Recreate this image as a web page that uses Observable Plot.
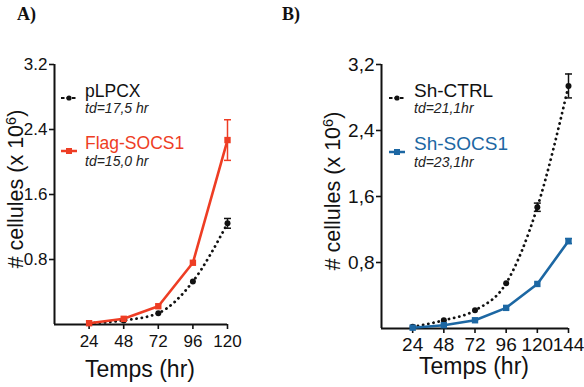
<!DOCTYPE html>
<html>
<head>
<meta charset="utf-8">
<script src="https://cdn.jsdelivr.net/npm/d3@7"></script>
<script src="https://cdn.jsdelivr.net/npm/@observablehq/plot@0.6"></script>
<style>
  html, body { margin: 0; padding: 0; background: #fff; }
  #wrap { position: relative; width: 584px; height: 387px; overflow: hidden; font-family: Arial, "Liberation Sans", Helvetica, sans-serif; }
  #wrap > div.panel { position: absolute; top: 0; }
  #overlay { position: absolute; left: 0; top: 0; pointer-events: none; }
</style>
</head>
<body>
<div id="wrap">
  <div class="panel" id="panelA" style="left:0px"></div>
  <div class="panel" id="panelB" style="left:292px"></div>
  <svg id="overlay" width="584" height="387" xmlns="http://www.w3.org/2000/svg"></svg>
</div>
<script>
// ---------- data ----------
const hoursA = [24, 48, 72, 96, 120];
const pLPCX = [0.015, 0.05, 0.14, 0.53, 1.245];
const pLPCXErr = [0, 0, 0, 0, 0.06];
const flagSOCS1 = [0.016, 0.07, 0.225, 0.76, 2.27];
const flagSOCS1Err = [0, 0, 0, 0, 0.25];

const hoursB = [24, 48, 72, 96, 120, 144];
const shCTRL = [0.02, 0.10, 0.22, 0.55, 1.47, 2.94];
const shCTRLErr = [0, 0, 0, 0, 0.05, 0.145];
const shSOCS1 = [0.01, 0.04, 0.10, 0.25, 0.54, 1.06];
const shSOCS1Err = [0, 0, 0, 0, 0, 0.03];

const yTicks = [0.8, 1.6, 2.4, 3.2];
const xTicksA = [24, 48, 72, 96, 120];
const xTicksB = [24, 48, 72, 96, 120, 144];

const legendA = [
  {name: "pLPCX", td: "td=17,5 hr"},
  {name: "Flag-SOCS1", td: "td=15,0 hr"}
];
const legendB = [
  {name: "Sh-CTRL", td: "td=21,1hr"},
  {name: "Sh-SOCS1", td: "td=23,1hr"}
];

const RED = "#ee3d24";
const BLUE = "#1c67a3";
const SANS = "Arial, 'Liberation Sans', Helvetica, sans-serif";

// ---------- helpers ----------
const rows = (xs, ys, es) => xs.map((x, i) => ({x, y: ys[i], lo: ys[i] - es[i], hi: ys[i] + es[i], e: es[i]}));
const capSymbol = {
  draw(context, size) {
    const w = Math.sqrt(size / Math.PI);
    context.moveTo(-w, 0);
    context.lineTo(w, 0);
  }
};

function errMarks(data, color) {
  const d = data.filter(r => r.e > 0);
  return [
    Plot.ruleX(d, {x: "x", y1: "lo", y2: "hi", stroke: color, strokeWidth: 1.5}),
    Plot.dot(d, {x: "x", y: "lo", symbol: capSymbol, r: 3.5, stroke: color, strokeWidth: 1.5, fill: "none"}),
    Plot.dot(d, {x: "x", y: "hi", symbol: capSymbol, r: 3.5, stroke: color, strokeWidth: 1.5, fill: "none"})
  ];
}

function panel({xs, ctrl, ctrlErr, test, testErr, color, xDomain, xTicks, fmt, fontSize, mLeft, mRight, mBottom, xPad}) {
  const c = rows(xs, ctrl, ctrlErr);
  const t = rows(xs, test, testErr);
  return Plot.plot({
    width: 292,
    height: 387,
    marginLeft: mLeft,
    marginRight: mRight,
    marginTop: 64,
    marginBottom: mBottom,
    style: {fontFamily: SANS, fontSize: fontSize + "px", color: "#111", background: "transparent", overflow: "visible"},
    x: {domain: xDomain},
    y: {domain: [0, 3.2]},
    marks: [
      Plot.axisX({ticks: xTicks, tickSize: 5, tickPadding: xPad, label: null, fontSize: fontSize, strokeWidth: 1.6}),
      Plot.axisY({ticks: yTicks, tickSize: 5, tickPadding: 2, tickFormat: fmt, label: null, fontSize: fontSize, strokeWidth: 1.6}),
      Plot.ruleX([xDomain[0]], {stroke: "#111", strokeWidth: 2}),
      Plot.ruleY([0], {stroke: "#111", strokeWidth: 2}),
      ...errMarks(c, "#111"),
      ...errMarks(t, color),
      Plot.line(c, {x: "x", y: "y", stroke: "#111", strokeWidth: 2.8, strokeDasharray: "0.1 5.2", strokeLinecap: "round", curve: "monotone-x"}),
      Plot.line(t, {x: "x", y: "y", stroke: color, strokeWidth: 2.6}),
      Plot.dot(c, {x: "x", y: "y", r: 3, fill: "#111", stroke: "none"}),
      Plot.dot(t, {x: "x", y: "y", r: 3.6, symbol: "square", fill: color, stroke: "none"})
    ]
  });
}

document.getElementById("panelA").append(panel({
  xs: hoursA, ctrl: pLPCX, ctrlErr: pLPCXErr, test: flagSOCS1, testErr: flagSOCS1Err,
  color: RED, xDomain: [0, 120], xTicks: xTicksA, fmt: d => d.toFixed(1), fontSize: 17,
  mLeft: 54, mRight: 65, mBottom: 63, xPad: 5
}));
document.getElementById("panelB").append(panel({
  xs: hoursB, ctrl: shCTRL, ctrlErr: shCTRLErr, test: shSOCS1, testErr: shSOCS1Err,
  color: BLUE, xDomain: [0, 144], xTicks: xTicksB, fmt: d => d.toFixed(1).replace(".", ","), fontSize: 19,
  mLeft: 89, mRight: 16, mBottom: 59, xPad: 4
}));

// ---------- overlay: panel letters, axis titles, legends ----------
const NS = "http://www.w3.org/2000/svg";
const ov = document.getElementById("overlay");
function el(tag, attrs, text) {
  const e = document.createElementNS(NS, tag);
  for (const k in attrs) e.setAttribute(k, attrs[k]);
  if (text != null) e.textContent = text;
  ov.append(e);
  return e;
}
const SERIF = "'Times New Roman', 'Liberation Serif', serif";
el("text", {x: 17, y: 20, "font-family": SERIF, "font-weight": "bold", "font-size": 18, fill: "#111"}, "A)");
el("text", {x: 282, y: 20, "font-family": SERIF, "font-weight": "bold", "font-size": 18, fill: "#111"}, "B)");

function yTitle(x, y) {
  const t = el("text", {transform: `translate(${x},${y}) rotate(-90)`, "text-anchor": "middle", "font-family": SANS, "font-size": 21.5, fill: "#111"});
  const a = document.createElementNS(NS, "tspan"); a.textContent = "# cellules (x 10"; t.append(a);
  const b = document.createElementNS(NS, "tspan"); b.textContent = "6"; b.setAttribute("font-size", 14.5); b.setAttribute("dy", -7.5); t.append(b);
  const c = document.createElementNS(NS, "tspan"); c.textContent = ")"; c.setAttribute("dy", 7.5); t.append(c);
}
yTitle(23, 189);
yTitle(340, 191);
el("text", {x: 140, y: 377, "text-anchor": "middle", "font-family": SANS, "font-size": 23, fill: "#111"}, "Temps (hr)");
el("text", {x: 474, y: 374, "text-anchor": "middle", "font-family": SANS, "font-size": 23, fill: "#111"}, "Temps (hr)");

function legend(items, x0, textX, nameSize, tdSize, color, ys) {
  const [c, t] = items;
  const y1 = ys[0], y2 = ys[1];
  el("line", {x1: x0, x2: x0 + 16, y1: y1 + 1, y2: y1 + 1, stroke: "#111", "stroke-width": 2, "stroke-dasharray": "3.5 2"});
  el("circle", {cx: x0 + 8, cy: y1 + 1, r: 2.6, fill: "#111"});
  el("text", {x: textX, y: y1, "font-family": SANS, "font-size": nameSize, fill: "#111"}, c.name);
  el("text", {x: textX, y: y1 + 16, "font-family": SANS, "font-style": "italic", "font-size": tdSize, fill: "#222"}, c.td);
  el("line", {x1: x0, x2: x0 + 16, y1: y2 + 2, y2: y2 + 2, stroke: color, "stroke-width": 2.5});
  el("rect", {x: x0 + 5, y: y2 - 1, width: 6, height: 6, fill: color});
  el("text", {x: textX, y: y2, "font-family": SANS, "font-size": nameSize, fill: color}, t.name);
  el("text", {x: textX, y: y2 + 17, "font-family": SANS, "font-style": "italic", "font-size": tdSize, fill: "#222"}, t.td);
}
legend(legendA, 61, 85, 17.5, 14, RED, [97, 149]);
legend(legendB, 389, 414, 19, 14, BLUE, [97, 150]);
</script>
</body>
</html>
